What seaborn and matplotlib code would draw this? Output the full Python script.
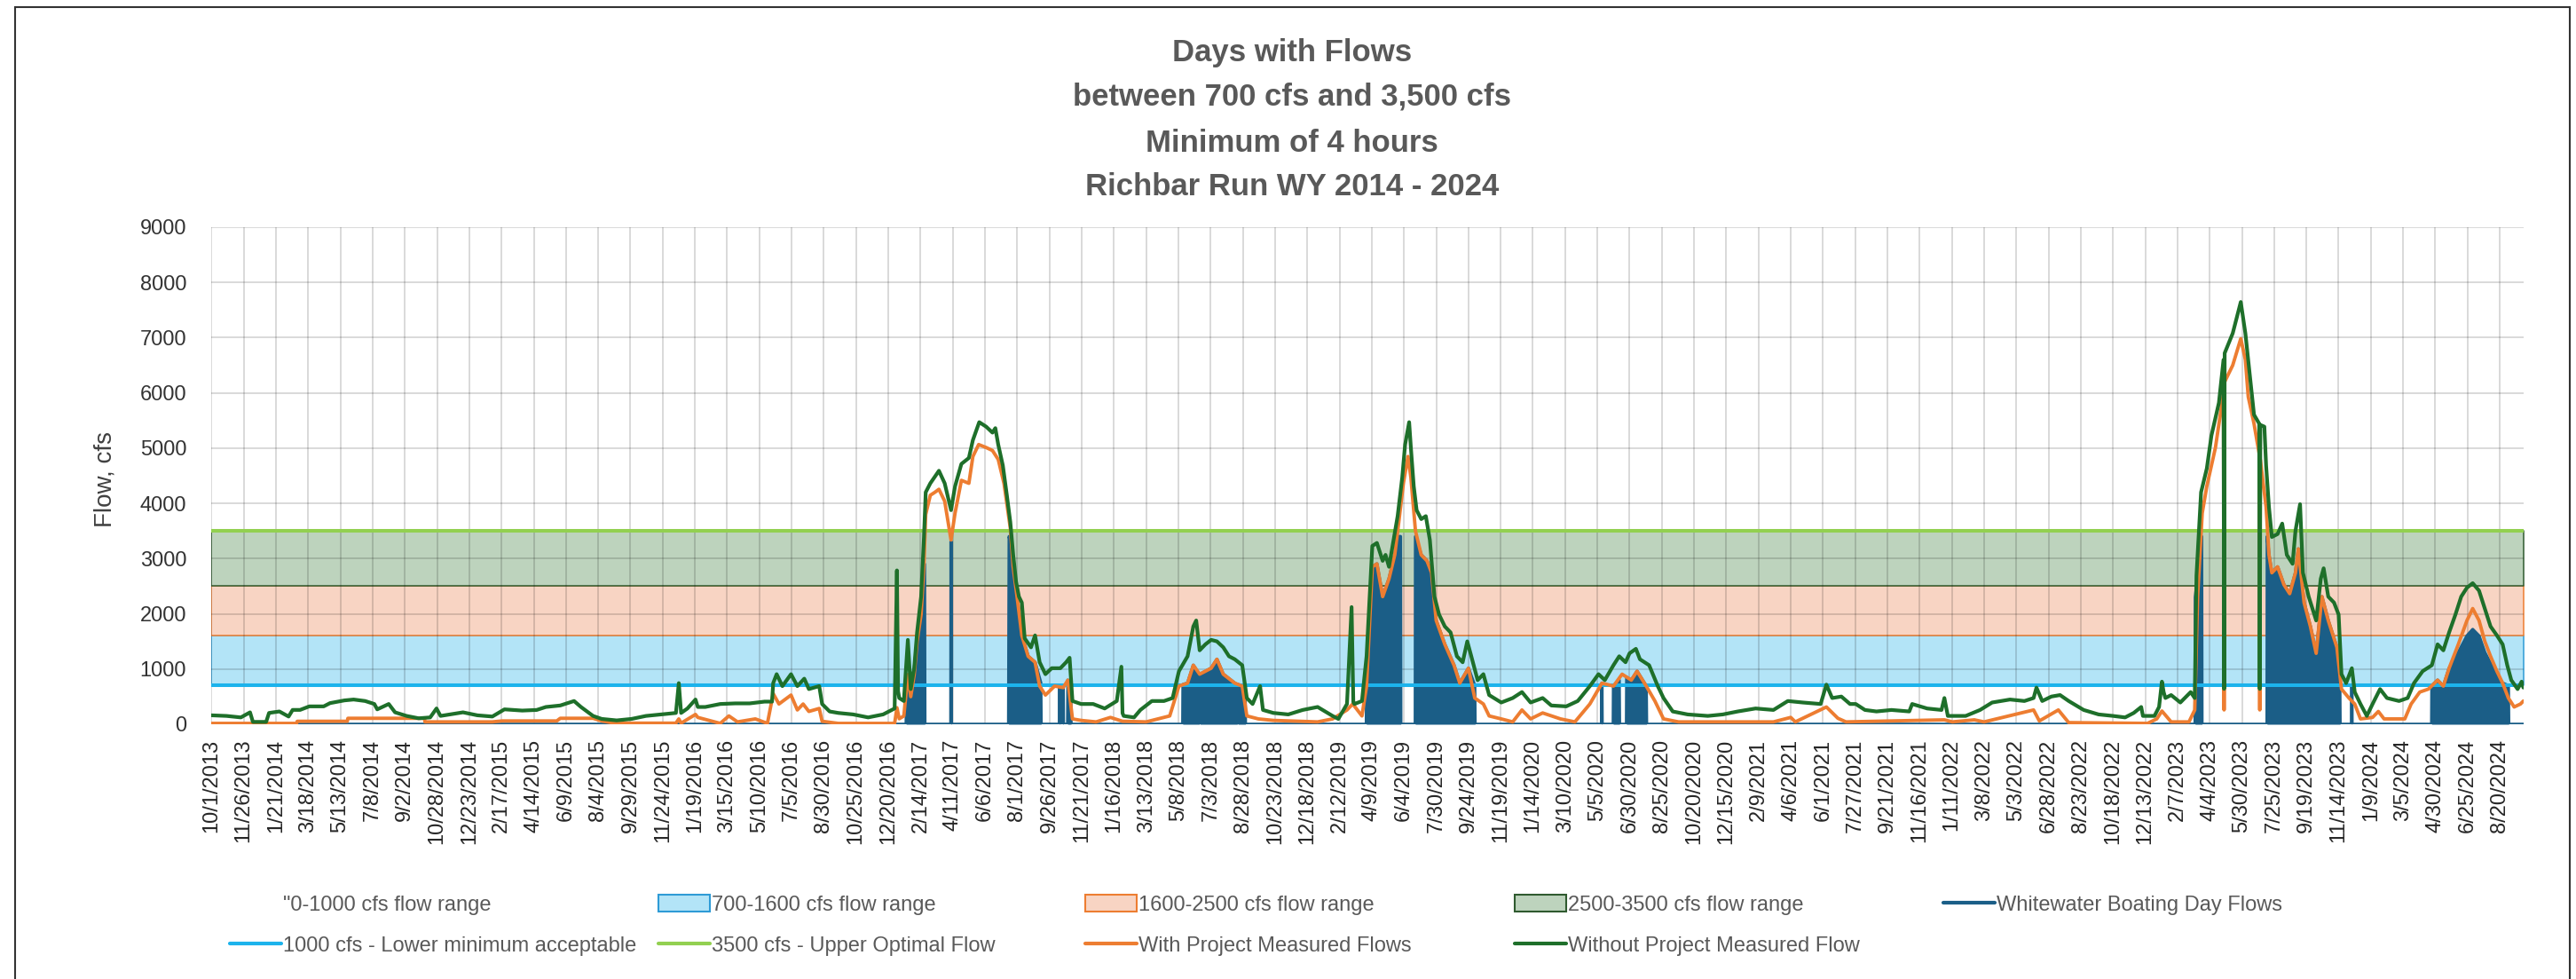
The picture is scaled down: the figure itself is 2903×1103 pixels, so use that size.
import pandas as pd
import numpy as np
import matplotlib
matplotlib.use('Agg')
import matplotlib.pyplot as plt
import seaborn as sns
from matplotlib.patches import Patch, Rectangle
from matplotlib.lines import Line2D

sns.set_style('white')
plt.rcParams['font.family'] = ['Liberation Sans', 'DejaVu Sans']

# water year start, data given as (days after 10/1/2013, cfs)
start = pd.Timestamp('2013-10-01')
n_days = 4018

without_project = [
    (0, 162), (26, 151), (51, 124), (67, 216), (72, 43), (95, 43), (100, 205), (118, 232), (134, 140),
    (141, 260), (154, 260), (170, 324), (195, 324), (206, 383), (231, 432), (247, 448), (267, 421),
    (283, 367), (288, 270), (308, 367), (319, 216), (339, 151), (360, 108), (380, 124), (391, 286),
    (398, 151), (437, 216), (462, 162), (488, 140), (509, 270), (540, 248), (565, 259), (581, 313),
    (606, 340), (630, 421), (642, 313), (663, 151), (678, 97), (704, 70), (730, 97), (755, 151),
    (781, 178), (807, 205), (812, 745), (816, 205), (827, 286), (841, 448), (845, 313), (858, 313),
    (884, 367), (910, 378), (935, 378), (961, 410), (974, 410), (976, 745), (982, 907), (992, 691),
    (1007, 907), (1018, 691), (1030, 826), (1038, 637), (1056, 691), (1061, 367), (1074, 232),
    (1089, 205), (1115, 178), (1141, 124), (1167, 178), (1187, 286), (1191, 2786), (1193, 600),
    (1195, 475), (1203, 421), (1210, 1528), (1215, 637), (1221, 1015), (1226, 1663), (1233, 2311),
    (1238, 3391), (1241, 4201), (1249, 4363), (1264, 4590), (1274, 4363), (1285, 3877), (1292, 4309),
    (1303, 4714), (1316, 4822), (1323, 5146), (1334, 5470), (1346, 5389), (1357, 5281), (1362, 5362),
    (1367, 5065), (1375, 4687), (1382, 4147), (1388, 3661), (1393, 3067), (1398, 2581), (1403, 2311),
    (1408, 2203), (1413, 1555), (1424, 1393), (1431, 1609), (1439, 1123), (1449, 907), (1460, 1015),
    (1475, 1015), (1485, 1123), (1491, 1204), (1496, 421), (1511, 367), (1532, 367), (1552, 286),
    (1573, 421), (1581, 1042), (1583, 200), (1585, 151), (1603, 124), (1614, 259), (1634, 421),
    (1655, 421), (1670, 475), (1681, 961), (1696, 1231), (1706, 1771), (1711, 1879), (1717, 1339),
    (1727, 1447), (1737, 1528), (1747, 1501), (1758, 1393), (1768, 1231), (1778, 1177), (1791, 1069),
    (1799, 475), (1809, 367), (1822, 691), (1827, 259), (1845, 205), (1871, 178), (1896, 259),
    (1922, 313), (1948, 151), (1958, 97), (1973, 367), (1981, 2122), (1984, 400), (1986, 367),
    (1999, 421), (2007, 1231), (2017, 3229), (2025, 3283), (2035, 2959), (2040, 3067), (2046, 2851),
    (2053, 3283), (2061, 3769), (2069, 4471), (2074, 5065), (2081, 5470), (2084, 5011), (2089, 4309),
    (2094, 3877), (2102, 3715), (2110, 3769), (2117, 3337), (2125, 2311), (2133, 1987), (2143, 1771),
    (2153, 1663), (2164, 1231), (2174, 1123), (2182, 1501), (2189, 1231), (2200, 799), (2210, 907),
    (2220, 529), (2241, 394), (2261, 475), (2277, 583), (2292, 394), (2313, 475), (2328, 340),
    (2354, 324), (2374, 421), (2395, 691), (2410, 907), (2421, 799), (2436, 1069), (2446, 1231),
    (2457, 1123), (2464, 1285), (2475, 1366), (2482, 1177), (2498, 1069), (2513, 691), (2523, 475),
    (2539, 232), (2565, 178), (2600, 151), (2626, 178), (2652, 232), (2683, 286), (2714, 259),
    (2739, 421), (2765, 394), (2796, 367), (2806, 718), (2816, 475), (2832, 502), (2847, 367),
    (2857, 367), (2873, 259), (2893, 232), (2919, 259), (2950, 232), (2955, 367), (2981, 286),
    (3006, 259), (3011, 475), (3017, 151), (3048, 151), (3073, 259), (3094, 394), (3125, 448),
    (3150, 421), (3166, 475), (3171, 664), (3181, 421), (3197, 502), (3212, 529), (3227, 421),
    (3253, 259), (3279, 178), (3304, 151), (3325, 124), (3340, 205), (3353, 313), (3356, 151),
    (3376, 151), (3384, 313), (3389, 772), (3392, 583), (3395, 475), (3405, 529), (3421, 394),
    (3439, 583), (3446, 475), (3449, 2689), (3457, 4201), (3467, 4633), (3475, 5227), (3488, 5821),
    (3496, 6600), (3497, 640), (3498, 6720), (3512, 7079), (3526, 7646), (3534, 7079), (3549, 5605),
    (3558, 5443), (3559, 640), (3560, 5420), (3567, 5389), (3570, 4687), (3575, 3931), (3580, 3391),
    (3590, 3445), (3598, 3634), (3606, 3067), (3616, 2905), (3621, 3499), (3629, 3985), (3634, 2743),
    (3644, 2311), (3657, 1879), (3665, 2635), (3670, 2824), (3678, 2311), (3688, 2203), (3696, 1987),
    (3701, 907), (3709, 745), (3719, 1015), (3724, 583), (3734, 367), (3745, 151), (3755, 367),
    (3768, 637), (3780, 475), (3801, 421), (3816, 475), (3827, 745), (3842, 961), (3858, 1069),
    (3868, 1447), (3878, 1339), (3888, 1663), (3899, 1987), (3909, 2311), (3919, 2473), (3929, 2554),
    (3940, 2419), (3950, 2095), (3960, 1771), (3971, 1609), (3981, 1447), (3989, 1069), (3996, 799),
    (4007, 637), (4014, 772), (4017, 664),
]

with_project = [
    (0, 16), (148, 16), (149, 54), (236, 54), (237, 108), (370, 108), (371, 43), (488, 43), (505, 60),
    (600, 60), (606, 108), (663, 108), (678, 60), (700, 20), (807, 20), (812, 97), (816, 20), (841, 178),
    (845, 124), (884, 16), (899, 151), (914, 43), (945, 97), (966, 16), (976, 556), (986, 367),
    (1007, 529), (1018, 259), (1028, 367), (1038, 232), (1056, 286), (1061, 54), (1089, 16), (1187, 16),
    (1191, 300), (1195, 100), (1203, 150), (1210, 900), (1215, 500), (1221, 900), (1226, 1500),
    (1233, 1990), (1238, 2900), (1241, 3800), (1249, 4147), (1257, 4201), (1264, 4255), (1274, 4039),
    (1285, 3337), (1292, 3823), (1303, 4417), (1316, 4363), (1323, 4849), (1333, 5065), (1346, 5011),
    (1357, 4957), (1367, 4795), (1377, 4363), (1388, 3553), (1393, 2851), (1401, 2203), (1408, 1609),
    (1419, 1231), (1431, 1123), (1439, 691), (1449, 529), (1465, 691), (1480, 664), (1488, 799),
    (1496, 97), (1511, 70), (1537, 43), (1562, 124), (1583, 54), (1624, 43), (1665, 151), (1681, 691),
    (1696, 745), (1706, 1069), (1717, 907), (1737, 1015), (1747, 1177), (1758, 907), (1778, 745),
    (1791, 691), (1799, 151), (1819, 97), (1845, 70), (1922, 43), (1948, 97), (1973, 259), (1983, 367),
    (1999, 151), (2007, 691), (2017, 2851), (2025, 2905), (2035, 2311), (2046, 2635), (2056, 3067),
    (2063, 3661), (2071, 4363), (2079, 4849), (2084, 4471), (2092, 3499), (2102, 3067), (2112, 2959),
    (2120, 2743), (2128, 1879), (2143, 1447), (2159, 1069), (2169, 745), (2184, 1015), (2195, 475),
    (2210, 367), (2220, 151), (2241, 97), (2261, 43), (2277, 259), (2292, 97), (2313, 205), (2344, 97),
    (2369, 43), (2395, 367), (2416, 745), (2436, 691), (2451, 907), (2467, 799), (2477, 961),
    (2493, 691), (2508, 421), (2523, 97), (2549, 43), (2714, 43), (2744, 124), (2752, 43), (2806, 313),
    (2826, 108), (2840, 43), (3011, 80), (3025, 43), (3063, 80), (3080, 43), (3166, 259), (3176, 60),
    (3209, 259), (3227, 30), (3364, 16), (3380, 97), (3389, 240), (3405, 43), (3436, 43), (3446, 259),
    (3451, 2311), (3459, 3823), (3467, 4309), (3482, 5011), (3496, 6000), (3497, 260), (3498, 6200),
    (3512, 6500), (3526, 6982), (3534, 6600), (3539, 5929), (3549, 5443), (3558, 4900), (3559, 260),
    (3560, 4795), (3570, 3931), (3575, 3067), (3580, 2743), (3590, 2851), (3601, 2527), (3611, 2365),
    (3621, 2743), (3626, 3175), (3636, 2203), (3647, 1771), (3657, 1285), (3667, 2311), (3678, 1879),
    (3693, 1393), (3701, 637), (3714, 475), (3724, 367), (3734, 97), (3755, 124), (3765, 232),
    (3775, 97), (3811, 97), (3822, 367), (3837, 583), (3852, 637), (3868, 799), (3878, 691),
    (3888, 1015), (3904, 1447), (3919, 1879), (3929, 2095), (3940, 1879), (3950, 1501), (3960, 1231),
    (3971, 961), (3981, 745), (3991, 475), (4001, 313), (4012, 367), (4017, 421),
]

# boating days (with project flow on qualifying days, 0 otherwise)
boating_day_flows = [
    (0, 0), (1207, 0), (1208, 850), (1215, 700), (1221, 1000), (1226, 1500), (1233, 1990), (1239, 2900),
    (1239.6, 0), (1284.6, 0), (1285, 3310), (1285.4, 0), (1385, 0), (1386, 3400), (1388, 3300),
    (1393, 2851), (1401, 2203), (1408, 1609), (1419, 1231), (1431, 1123), (1441, 750), (1441.6, 0),
    (1473.6, 0), (1474, 690), (1474.4, 0), (1479.6, 0), (1480, 690), (1480.4, 0), (1487.6, 0),
    (1488, 799), (1493, 750), (1493.6, 0), (1687.6, 0), (1688, 720), (1696, 745), (1706, 1069),
    (1716, 907), (1716.4, 0), (1717.6, 0), (1718, 907), (1737, 1015), (1747, 1177), (1758, 907),
    (1778, 745), (1782, 720), (1782.4, 0), (1783.6, 0), (1784, 720), (1791, 691), (1796, 650),
    (1796.6, 0), (2006.6, 0), (2007, 700), (2017, 2851), (2025, 2905), (2035, 2311), (2046, 2635),
    (2056, 3067), (2063, 3400), (2066, 3400), (2066.6, 0), (2091.6, 0), (2092, 3400), (2102, 3067),
    (2112, 2959), (2120, 2743), (2128, 1879), (2143, 1447), (2159, 1069), (2169, 745), (2184, 1015),
    (2195, 700), (2195.6, 0), (2415.6, 0), (2416, 745), (2416.4, 0), (2435.6, 0), (2436, 691),
    (2446, 800), (2446.6, 0), (2458.6, 0), (2459, 850), (2467, 799), (2477, 961), (2493, 691),
    (2493.6, 0), (3446.6, 0), (3447, 2300), (3458, 3400), (3458.6, 0), (3571.6, 0), (3572, 3400),
    (3575, 3067), (3580, 2743), (3590, 2851), (3601, 2527), (3611, 2365), (3621, 2743), (3626, 3175),
    (3636, 2203), (3647, 1771), (3657, 1285), (3667, 2311), (3678, 1879), (3693, 1393), (3698, 900),
    (3698.6, 0), (3718.6, 0), (3719, 700), (3719.4, 0), (3857.6, 0), (3858, 700), (3868, 799),
    (3878, 691), (3888, 1015), (3904, 1300), (3919, 1600), (3929, 1717), (3940, 1600), (3950, 1300),
    (3960, 1100), (3971, 900), (3981, 745), (3991, 700), (3991.6, 0), (4017, 0),
]

# flow range bands and reference lines
band_labels = ['700-1600 cfs flow range', '1600-2500 cfs flow range', '2500-3500 cfs flow range']
band_low = [700, 1600, 2500]
band_high = [1600, 2500, 3500]
band_fill = ['#b3e4f7', '#f8d4c3', '#bdd3bd']
band_edge = ['#2e9bd6', '#ed7d31', '#2f5a2f']
lower_min = 700
upper_opt = 3500

title_lines = ['Days with Flows', 'between 700 cfs and 3,500 cfs', 'Minimum of 4 hours',
               'Richbar Run WY 2014 - 2024']


def to_frame(points):
    df = pd.DataFrame(points, columns=['day', 'cfs'])
    df['date'] = start + pd.to_timedelta(df['day'], unit='D')
    return df


green = to_frame(without_project)
orange = to_frame(with_project)
boat = to_frame(boating_day_flows)

W, H = 2903, 1103
fig = plt.figure(figsize=(W / 100, H / 100), dpi=100)
ax = fig.add_axes([238 / W, 1 - 816 / H, (2844 - 238) / W, (816 - 256) / H])

x0 = start - pd.Timedelta(hours=12)
x1 = start + pd.Timedelta(days=n_days) - pd.Timedelta(hours=12)

for lo, hi, fc, ec in zip(band_low, band_high, band_fill, band_edge):
    ax.fill_between([x0, x1], lo, hi, facecolor=fc, edgecolor=ec, linewidth=1.1, zorder=1)

# boating days as filled area
ax.fill_between(boat['date'], 0, boat['cfs'], color='#1b5e87', linewidth=0, zorder=1.8)
sns.lineplot(data=boat, x='date', y='cfs', color='#1b5e87', linewidth=2.6, ax=ax, zorder=1.9,
             sort=False, legend=False)

ax.axhline(lower_min, color='#1cb3ec', linewidth=2.9, zorder=2.5)
ax.axhline(upper_opt, color='#92d050', linewidth=2.9, zorder=2.5)

sns.lineplot(data=orange, x='date', y='cfs', color='#ed7d31', linewidth=2.8, ax=ax, zorder=3,
             sort=False, legend=False)
sns.lineplot(data=green, x='date', y='cfs', color='#1e6f2a', linewidth=3.0, ax=ax, zorder=4,
             sort=False, legend=False)

# axes
tick_dates = pd.date_range(start, periods=72, freq='56D')
tick_labels = [f'{d.month}/{d.day}/{d.year}' for d in tick_dates]
ax.set_xlim(x0, x1)
ax.set_ylim(0, 9000)
ax.set_xticks(tick_dates)
ax.set_xticklabels(tick_labels, rotation=90)
ax.set_yticks(range(0, 9001, 1000))
ax.tick_params(axis='x', length=0, pad=12, labelsize=17, labelcolor='#262626')
ax.tick_params(axis='y', length=0, pad=20, labelsize=17, labelcolor='#333333')
ax.set_axisbelow('line')
ax.grid(True, color='black', alpha=0.15, linewidth=1.4)
for s in ax.spines.values():
    s.set_visible(False)
ax.set_xlabel('')
ax.set_ylabel('Flow, cfs', fontsize=20, color='#404040')
ax.yaxis.set_label_coords(-0.0407, 0.493)

# title
for line, base in zip(title_lines, [69, 119, 171, 220]):
    fig.text(1456 / W, 1 - base / H, line, ha='center', va='baseline', fontsize=25,
             fontweight='bold', color='#595959')

# legend, five columns of two rows
h_empty = Patch(facecolor='white', edgecolor='white')
h_bands = [Patch(facecolor=fc, edgecolor=ec, linewidth=1.5) for fc, ec in zip(band_fill, band_edge)]
h_boat = Line2D([], [], color='#1b5e87', linewidth=3)
h_low = Line2D([], [], color='#1cb3ec', linewidth=3)
h_up = Line2D([], [], color='#92d050', linewidth=3)
h_with = Line2D([], [], color='#ed7d31', linewidth=3)
h_without = Line2D([], [], color='#1e6f2a', linewidth=3)

columns = [
    ([h_empty, h_low], ['"0-1000 cfs flow range', '1000 cfs - Lower minimum acceptable'], 259),
    ([h_bands[0], h_up], [band_labels[0], '3500 cfs - Upper Optimal Flow'], 742),
    ([h_bands[1], h_with], [band_labels[1], 'With Project Measured Flows'], 1223),
    ([h_bands[2], h_without], [band_labels[2], 'Without Project Measured Flow'], 1707),
    ([h_boat], ['Whitewater Boating Day Flows'], 2190),
]
for handles, labels, xpix in columns:
    leg = fig.legend(handles, labels, loc='upper left', bbox_to_anchor=(xpix / W, 1 - 1008 / H),
                     frameon=False, fontsize=17, handlelength=2.45, handleheight=0.85,
                     handletextpad=0.1, labelspacing=1.0, borderpad=0, borderaxespad=0)
    for t in leg.get_texts():
        t.set_color('#595959')

# chart border
fig.patches.append(Rectangle((17 / W, -0.02), (2896 - 17) / W, 1.02 - 8 / H, transform=fig.transFigure,
                             fill=False, edgecolor='#333333', linewidth=1.5))

fig.savefig('out.png', dpi=100)
